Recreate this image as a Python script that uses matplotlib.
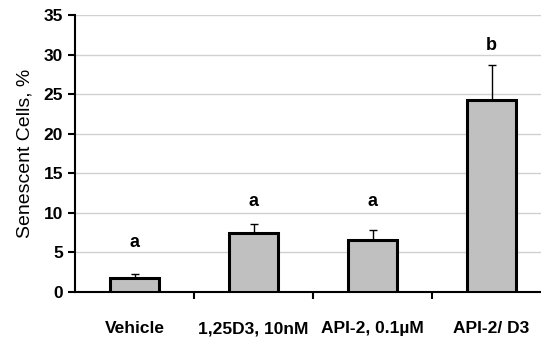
import matplotlib
matplotlib.use("Agg")
import matplotlib.pyplot as plt
import numpy as np

categories = ["Vehicle", "1,25D3, 10nM", "API-2, 0.1\u00b5M", "API-2/ D3"]
values = [1.8, 7.4, 6.6, 24.2]
errors = [0.5, 1.2, 1.2, 4.5]
letters = ["a", "a", "a", "b"]
letter_y = [6.2, 11.4, 11.4, 31.2]

plt.rcParams["font.family"] = ["Liberation Sans", "DejaVu Sans"]

fig = plt.figure(figsize=(5.41, 3.40), dpi=100)
ax = fig.add_axes([75 / 541, 48 / 340, 476 / 541, 277 / 340])

x = np.arange(len(categories))
ax.bar(x, values, width=0.42, color="#c0c0c0", edgecolor="black",
       linewidth=2.2, zorder=3)
ax.errorbar(x, values, yerr=[np.zeros(len(errors)), errors], fmt="none",
            ecolor="black", elinewidth=1, capsize=3, capthick=1, zorder=2)

for xi, lab, ly in zip(x, letters, letter_y):
    ax.text(xi, ly, lab, ha="center", va="center", fontsize=13,
            fontweight="bold")

ax.set_ylim(0, 35)
ax.set_xlim(-0.5, len(categories) - 0.5)
ax.set_yticks(np.arange(0, 36, 5))
ax.yaxis.grid(True, color="#d0d0d0", linewidth=1, zorder=0)
ax.set_axisbelow(True)

# category ticks at the boundaries, labels centred under bars
ax.set_xticks(np.arange(0.5, len(categories) - 0.5, 1))
ax.set_xticklabels([])
ax.set_xticks(x, minor=True)
ax.set_xticklabels(categories, minor=True, fontsize=12.5, fontweight="bold")
ax.tick_params(axis="x", which="minor", length=0, pad=21)
ax.tick_params(axis="x", which="major", length=5, width=1.5, direction="out")
ax.tick_params(axis="y", length=5, width=1.5, direction="out", labelsize=12.5)
for lab in ax.get_yticklabels():
    lab.set_fontweight("bold")

for side in ["top", "right"]:
    ax.spines[side].set_visible(False)
for side in ["left", "bottom"]:
    ax.spines[side].set_linewidth(1.5)

ax.set_ylabel("Senescent Cells, %", fontsize=14, labelpad=7)

fig.savefig("out.png", dpi=100)
